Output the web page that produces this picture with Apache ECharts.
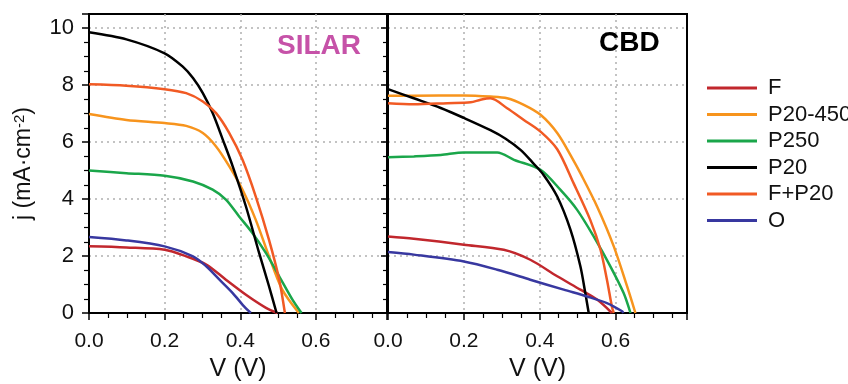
<!DOCTYPE html>
<html>
<head>
<meta charset="utf-8">
<script src="https://cdn.jsdelivr.net/npm/echarts@6/dist/echarts.min.js"></script>
<style>
  html, body { margin: 0; padding: 0; background: #fff; }
  #chart { width: 848px; height: 384px; }
</style>
</head>
<body>
<div id="chart"></div>
<script>
// series names and colours (legend order)
var names = ['F', 'P20-450', 'P250', 'P20', 'F+P20', 'O'];
var colors = ['#c1272d', '#f7941d', '#1aa64a', '#000000', '#f15a24', '#3838a0'];

// SILAR panel, [V, j]
var silarF = [[0,2.34],[0.099,2.30],[0.2,2.22],[0.257,1.99],[0.31,1.70],[0.362,1.17],[0.415,0.64],[0.468,0.18],[0.498,0]];
var silarP20_450 = [[0,6.99],[0.099,6.78],[0.2,6.67],[0.257,6.57],[0.301,6.32],[0.336,5.85],[0.371,5.15],[0.406,4.33],[0.441,3.27],[0.476,1.99],[0.511,0.82],[0.555,0]];
var silarP250 = [[0,5.0],[0.099,4.91],[0.2,4.82],[0.275,4.62],[0.327,4.33],[0.362,3.98],[0.397,3.39],[0.432,2.81],[0.468,2.10],[0.503,1.29],[0.538,0.47],[0.562,0]];
var silarP20 = [[0,9.86],[0.099,9.61],[0.2,9.12],[0.248,8.65],[0.275,8.25],[0.301,7.72],[0.327,7.02],[0.354,6.08],[0.38,5.15],[0.415,3.74],[0.45,2.10],[0.476,0.94],[0.496,0]];
var silarFP20 = [[0,8.03],[0.099,7.98],[0.2,7.86],[0.257,7.72],[0.301,7.43],[0.336,7.02],[0.371,6.32],[0.406,5.38],[0.441,4.09],[0.476,2.57],[0.503,1.17],[0.518,0]];
var silarO = [[0,2.67],[0.099,2.55],[0.2,2.34],[0.275,1.99],[0.31,1.64],[0.345,1.17],[0.38,0.70],[0.41,0.23],[0.428,0]];

// CBD panel, [V, j]
var cbdF = [[0,2.69],[0.068,2.61],[0.2,2.40],[0.305,2.22],[0.375,1.87],[0.446,1.29],[0.507,0.82],[0.551,0.47],[0.59,0]];
var cbdP20_450 = [[0,7.63],[0.068,7.63],[0.2,7.64],[0.27,7.60],[0.314,7.54],[0.358,7.31],[0.402,6.96],[0.446,6.32],[0.485,5.45],[0.507,4.91],[0.551,3.74],[0.595,2.34],[0.63,0.94],[0.652,0]];
var cbdP250 = [[0,5.47],[0.068,5.50],[0.139,5.55],[0.2,5.64],[0.288,5.64],[0.332,5.38],[0.402,5.03],[0.454,4.33],[0.498,3.63],[0.542,2.69],[0.586,1.64],[0.621,0.70],[0.639,0]];
var cbdP20 = [[0,7.86],[0.068,7.54],[0.139,7.20],[0.2,6.85],[0.27,6.42],[0.31,6.12],[0.35,5.72],[0.38,5.30],[0.41,4.85],[0.446,4.09],[0.481,2.92],[0.507,1.64],[0.52,0.70],[0.529,0]];
var cbdFP20 = [[0,7.37],[0.068,7.33],[0.156,7.37],[0.218,7.40],[0.244,7.49],[0.27,7.54],[0.314,7.19],[0.358,6.78],[0.402,6.37],[0.446,5.75],[0.489,4.56],[0.533,3.27],[0.56,2.22],[0.577,1.17],[0.59,0.23],[0.595,0]];
var cbdO = [[0,2.14],[0.068,2.05],[0.2,1.81],[0.288,1.52],[0.375,1.17],[0.463,0.82],[0.525,0.58],[0.577,0.35],[0.617,0.06],[0.62,0]];

var silarData = [silarF, silarP20_450, silarP250, silarP20, silarFP20, silarO];
var cbdData = [cbdF, cbdP20_450, cbdP250, cbdP20, cbdFP20, cbdO];

var font = 'Liberation Sans, Arial, sans-serif';

function xAxisFor(idx) {
    return {
        type: 'value',
        gridIndex: idx,
        min: 0,
        max: 0.788,
        interval: 0.2,
        name: 'V (V)',
        nameLocation: 'middle',
        nameGap: 44,
        nameTextStyle: { fontSize: 25, color: '#111', fontFamily: font },
        axisLine: { onZero: false, lineStyle: { color: '#000', width: 2 } },
        axisTick: { length: 7, lineStyle: { color: '#000', width: 1.5 } },
        minorTick: { show: true, splitNumber: 4, length: 5, lineStyle: { color: '#000', width: 1.2 } },
        axisLabel: {
            fontSize: 21, color: '#111', fontFamily: font, margin: 18, showMaxLabel: false,
            formatter: function (v) { return v.toFixed(1); }
        },
        splitLine: { show: true, showMinLine: false, showMaxLine: false, lineStyle: { color: '#b0b0b0', type: [2, 4], width: 1.5 } }
    };
}

function yAxisFor(idx) {
    return {
        type: 'value',
        gridIndex: idx,
        min: 0,
        max: 10.5,
        interval: 2,
        name: idx === 0 ? 'j (mA·cm{sup|-2})' : '',
        nameLocation: 'middle',
        nameGap: 54,
        nameRotate: 90,
        nameTextStyle: {
            fontSize: 23, color: '#111', fontFamily: font,
            rich: { sup: { fontSize: 15, color: '#111', fontFamily: font, verticalAlign: 'top' } }
        },
        axisLine: { lineStyle: { color: '#000', width: 2 } },
        axisTick: { length: 7, lineStyle: { color: '#000', width: 1.5 } },
        minorTick: { show: true, splitNumber: 4, length: 5, lineStyle: { color: '#000', width: 1.2 } },
        axisLabel: { show: idx === 0, fontSize: 22, color: '#111', fontFamily: font, margin: 15, showMaxLabel: false },
        splitLine: { show: true, showMinLine: false, showMaxLine: false, lineStyle: { color: '#b0b0b0', type: [2, 4], width: 1.5 } }
    };
}

var series = [];
names.forEach(function (n, i) {
    series.push({
        name: n, type: 'line', xAxisIndex: 0, yAxisIndex: 0,
        data: silarData[i], smooth: 0.3, showSymbol: false,
        lineStyle: { color: colors[i], width: 2.5 }, itemStyle: { color: colors[i] }
    });
    series.push({
        name: n, type: 'line', xAxisIndex: 1, yAxisIndex: 1,
        data: cbdData[i], smooth: 0.3, showSymbol: false,
        lineStyle: { color: colors[i], width: 2.5 }, itemStyle: { color: colors[i] }
    });
});

var option = {
    backgroundColor: '#fff',
    animation: false,
    title: [
        { text: 'SILAR', left: 272, top: 27, textStyle: { fontSize: 28, fontWeight: 'bold', color: '#c652a8', fontFamily: font } },
        { text: 'CBD', left: 594, top: 24, textStyle: { fontSize: 28, fontWeight: 'bold', color: '#000', fontFamily: font } }
    ],
    legend: {
        orient: 'vertical',
        left: 702,
        top: 72,
        itemWidth: 50,
        itemHeight: 3,
        itemGap: 4.5,
        icon: 'rect',
        data: names,
        textStyle: { fontSize: 22, color: '#111', fontFamily: font, padding: [0, 0, 0, 6] }
    },
    grid: [
        { left: 89, top: 14, width: 298, height: 299, outerBoundsMode: 'none', show: true, borderColor: '#000', borderWidth: 2, backgroundColor: 'transparent' },
        { left: 388, top: 14, width: 299, height: 299, outerBoundsMode: 'none', show: true, borderColor: '#000', borderWidth: 2, backgroundColor: 'transparent' }
    ],
    xAxis: [xAxisFor(0), xAxisFor(1)],
    yAxis: [yAxisFor(0), yAxisFor(1)],
    series: series
};

echarts.init(document.getElementById('chart')).setOption(option);
</script>
</body>
</html>
